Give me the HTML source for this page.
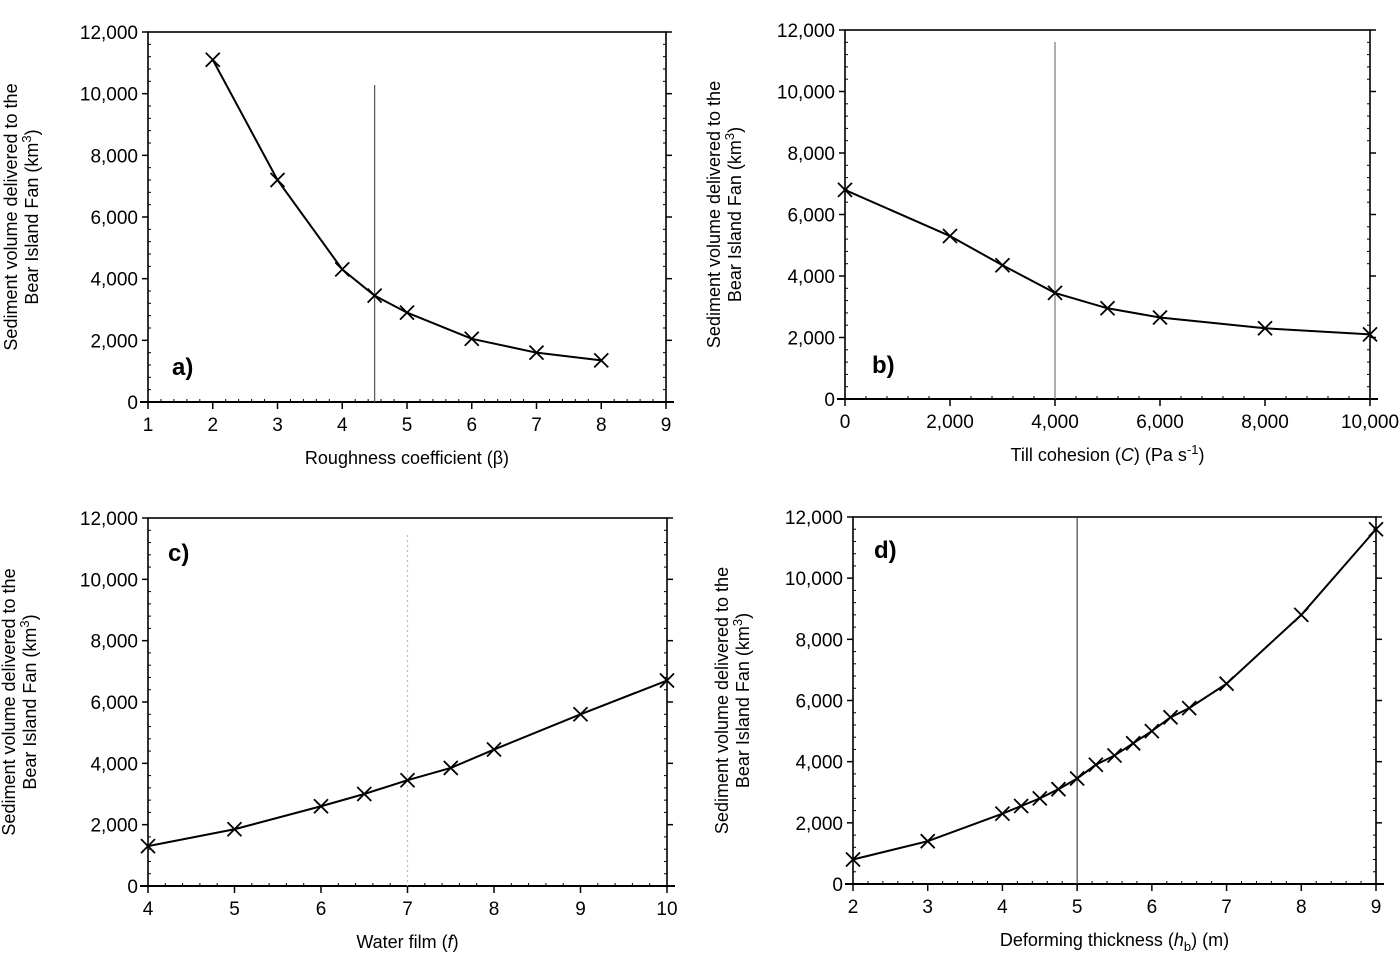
<!DOCTYPE html>
<html><head><meta charset="utf-8"><style>
html,body{margin:0;padding:0;background:#fff;width:1400px;height:954px;overflow:hidden}
svg{display:block;font-family:"Liberation Sans",sans-serif}
</style></head><body>
<svg id="fig" width="1400" height="954" viewBox="0 0 1400 954"></svg>
<script>
const aX=[2,3,4,4.5,5,6,7,8];
const aY=[11100,7200,4300,3450,2900,2050,1600,1350];
const bX=[0,2000,3000,4000,5000,6000,8000,10000];
const bY=[6800,5300,4350,3450,2950,2650,2300,2100];
const cX=[4,5,6,6.5,7,7.5,8,9,10];
const cY=[1300,1850,2600,3000,3450,3850,4450,5600,6700];
const dX=[2,3,4,4.25,4.5,4.75,5,5.25,5.5,5.75,6,6.25,6.5,7,8,9];
const dY=[800,1400,2300,2550,2800,3100,3450,3900,4200,4600,5000,5450,5750,6550,8800,11600];
const yTicks=[0,2000,4000,6000,8000,10000,12000];
const yTickLabels=["0","2,000","4,000","6,000","8,000","10,000","12,000"];
const aTicks=[1,2,3,4,5,6,7,8,9];
const bTicks=[0,2000,4000,6000,8000,10000];
const bTickLabels=["0","2,000","4,000","6,000","8,000","10,000"];
const cTicks=[4,5,6,7,8,9,10];
const dTicks=[2,3,4,5,6,7,8,9];

const NS="http://www.w3.org/2000/svg";
const svg=document.getElementById('fig');
function el(t,a,p){const e=document.createElementNS(NS,t);for(const k in a)e.setAttribute(k,a[k]);(p||svg).appendChild(e);return e;}

function panel(o){
  const g=el('g',{});
  
  
  const sx=v=>o.x0+(v-o.xmin)/(o.xmax-o.xmin)*(o.x1-o.x0);
  const sy=v=>o.y0-(v/12000)*(o.y0-o.y1);
  const fr=el('rect',{x:o.x0,y:o.y1,width:o.x1-o.x0,height:o.y0-o.y1,fill:'none',stroke:'#000','stroke-width':1.6},g);
  
  
  el('line',{x1:o.x0-8,x2:o.x1+8,y1:o.y0,y2:o.y0,stroke:'#000','stroke-width':2},g);
  yTicks.forEach((v,i)=>{
    const y=sy(v);
    el('line',{x1:o.x0-6,x2:o.x0,y1:y,y2:y,stroke:'#000','stroke-width':1.5},g);
    el('line',{x1:o.x1,x2:o.x1+6,y1:y,y2:y,stroke:'#000','stroke-width':1.5},g);
    const t=el('text',{x:o.x0-10,y:y+7,'text-anchor':'end','font-size':19},g);
    t.textContent=yTickLabels[i];
    
    
    if(i<yTicks.length-1){for(let k=1;k<5;k++){const ym=sy(v+k*400);
      el('line',{x1:o.x0,x2:o.x0+3,y1:ym,y2:ym,stroke:'#000','stroke-width':1},g);
      el('line',{x1:o.x1-3,x2:o.x1,y1:ym,y2:ym,stroke:'#000','stroke-width':1},g);}}
  });
  o.xt.forEach((v,i)=>{
    const x=sx(v);
    el('line',{x1:x,x2:x,y1:o.y0,y2:o.y0+7,stroke:'#000','stroke-width':1.5},g);
    const t=el('text',{x:x,y:o.y0+29,'text-anchor':'middle','font-size':19},g);
    t.textContent=o.xl?o.xl[i]:String(v);
    
    
    if(i<o.xt.length-1){const st=(o.xt[i+1]-v)/5;for(let k=1;k<5;k++){const xm=sx(v+k*st);
      el('line',{x1:xm,x2:xm,y1:o.y0-3,y2:o.y0,stroke:'#000','stroke-width':1},g);}}
  });
  const vl=el('line',{x1:sx(o.vx),x2:sx(o.vx),y1:o.vy,y2:o.y0,stroke:o.vc,'stroke-width':1.2,'stroke-dasharray':o.vd||'none'},g);
  
  
  const pts=o.X.map((v,i)=>sx(v)+','+sy(o.Y[i])).join(' ');
  const pl=el('polyline',{points:pts,fill:'none',stroke:'#000','stroke-width':2},g);
  
  
  o.X.forEach((v,i)=>{
    const x=sx(v),y=sy(o.Y[i]),s=7;
    const m=el('path',{d:`M${x-s},${y-s}L${x+s},${y+s}M${x-s},${y+s}L${x+s},${y-s}`,stroke:'#000','stroke-width':1.8},g);
    
    
  });
  const pt=el('text',{x:o.lx,y:o.ly,'font-size':24,'font-weight':'bold'},g);
  pt.textContent=o.id+')';
  
  
  const xt=el('text',{x:(o.x0+o.x1)/2,y:o.y0+62,'text-anchor':'middle','font-size':18},g);
  xt.innerHTML=o.xtitle;
  
  
  const cy=(o.y0+o.y1)/2;
  const yt=el('text',{transform:`translate(${o.yx},${cy}) rotate(-90)`,'text-anchor':'middle','font-size':18},g);
  yt.innerHTML='<tspan x="0" dy="0">Sediment volume delivered to the</tspan><tspan x="0" dy="21">Bear Island Fan (km<tspan dy="-7" font-size="13">3</tspan><tspan dy="7">)</tspan></tspan>';
  
  
}

panel({id:'a',x0:148,x1:666,y0:402,y1:32,xmin:1,xmax:9,xt:aTicks,X:aX,Y:aY,vx:4.5,vy:85,vc:'#555',lx:172,ly:375,yx:17,
  xtitle:'Roughness coefficient (β)'});
panel({id:'b',x0:845,x1:1370,y0:399,y1:30,xmin:0,xmax:10000,xt:bTicks,xl:bTickLabels,X:bX,Y:bY,vx:4000,vy:42,vc:'#777',lx:872,ly:373,yx:720,
  xtitle:'Till cohesion (<tspan font-style="italic">C</tspan>)  (Pa s<tspan dy="-7" font-size="13">-1</tspan><tspan dy="7">)</tspan>'});
panel({id:'c',x0:148,x1:667,y0:886,y1:518,xmin:4,xmax:10,xt:cTicks,X:cX,Y:cY,vx:7,vy:535,vc:'#bbb',vd:'2,3',lx:168,ly:561,yx:15,
  xtitle:'Water film (<tspan font-style="italic">f</tspan>)'});
panel({id:'d',x0:853,x1:1376,y0:884,y1:517,xmin:2,xmax:9,xt:dTicks,X:dX,Y:dY,vx:5,vy:517,vc:'#444',lx:874,ly:558,yx:728,
  xtitle:'Deforming thickness (<tspan font-style="italic">h</tspan><tspan dy="5" font-size="13">b</tspan><tspan dy="-5">)  (m)</tspan>'});
</script>
</body></html>
